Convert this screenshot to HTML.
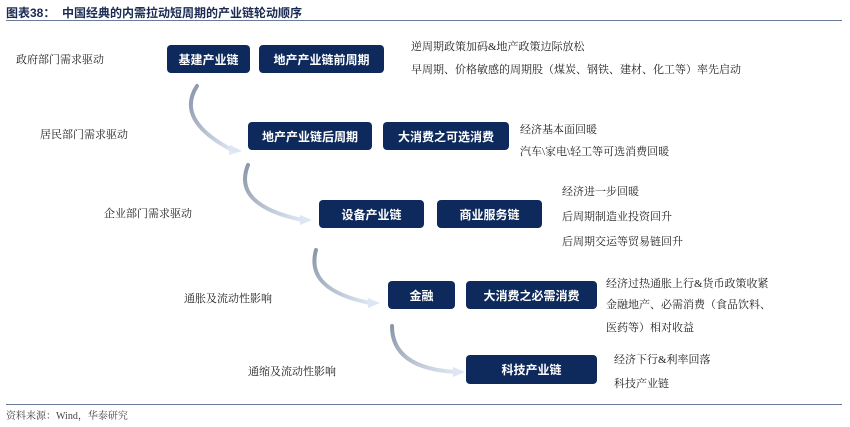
<!DOCTYPE html><html><head><meta charset="utf-8"><style>
body{margin:0;width:850px;height:427px;background:#fff;position:relative;font-family:"Liberation Serif","Noto Serif CJK SC",serif;overflow:hidden}
.t{position:absolute;font-size:11px;color:#222;white-space:nowrap}
.b{position:absolute;background:#0e2a5c;color:#fff;border-radius:4px;font-weight:bold;font-size:12px;display:flex;align-items:center;justify-content:center;font-family:"Liberation Sans","Noto Sans CJK SC",sans-serif}
</style></head><body>
<div class="t" style="left:6px;top:4px;font-weight:bold;font-size:12px;color:#1a2a50;font-family:'Liberation Sans','Noto Sans CJK SC',sans-serif">图表38：&nbsp;&nbsp;中国经典的内需拉动短周期的产业链轮动顺序</div>
<div style="position:absolute;left:6px;top:20px;width:836px;height:1px;background:#6b7a99"></div>
<div style="position:absolute;left:6px;top:404px;width:836px;height:1px;background:#6b7a99"></div>
<div class="t" style="left:6px;top:407px;font-size:10px;color:#444">资料来源：Wind，华泰研究</div>
<svg width="850" height="427" style="position:absolute;left:0;top:0">
<defs><linearGradient id="g" x1="0" y1="0" x2="1" y2="1"><stop offset="0" stop-color="#8a96aa"/><stop offset="1" stop-color="#dde6f2"/></linearGradient></defs>
<g fill="none" stroke="url(#g)" stroke-width="4" stroke-linecap="round">
<path d="M197 86 Q175 120 232 150"/><path d="M248 165 Q232 205 302 220"/><path d="M316 250 Q305 290 370 303"/><path d="M392 326 Q392 368 455 372"/>
</g>
<g fill="#dde6f2"><path d="M230 145 L242 151 L229 155Z"/><path d="M300 215 L312 220 L300 225Z"/><path d="M368 298 L380 303 L368 308Z"/><path d="M453 367 L465 372 L453 377Z"/></g>
</svg>
<div class="b" style="left:167px;top:45px;width:83px;height:28px">基建产业链</div>
<div class="b" style="left:259px;top:45px;width:125px;height:28px">地产产业链前周期</div>
<div class="b" style="left:248px;top:122px;width:124px;height:28px">地产产业链后周期</div>
<div class="b" style="left:383px;top:122px;width:126px;height:28px">大消费之可选消费</div>
<div class="b" style="left:319px;top:200px;width:105px;height:28px">设备产业链</div>
<div class="b" style="left:437px;top:200px;width:105px;height:28px">商业服务链</div>
<div class="b" style="left:388px;top:281px;width:67px;height:28px">金融</div>
<div class="b" style="left:466px;top:281px;width:131px;height:28px">大消费之必需消费</div>
<div class="b" style="left:466px;top:355px;width:131px;height:29px">科技产业链</div>
<div class="t" style="left:16px;top:51px">政府部门需求驱动</div>
<div class="t" style="left:40px;top:126px">居民部门需求驱动</div>
<div class="t" style="left:104px;top:205px">企业部门需求驱动</div>
<div class="t" style="left:184px;top:290px">通胀及流动性影响</div>
<div class="t" style="left:248px;top:363px">通缩及流动性影响</div>
<div class="t" style="left:411px;top:38px">逆周期政策加码&amp;地产政策边际放松</div>
<div class="t" style="left:411px;top:61px">早周期、价格敏感的周期股（煤炭、钢铁、建材、化工等）率先启动</div>
<div class="t" style="left:520px;top:121px">经济基本面回暖</div>
<div class="t" style="left:520px;top:143px">汽车\家电\轻工等可选消费回暖</div>
<div class="t" style="left:562px;top:183px">经济进一步回暖</div>
<div class="t" style="left:562px;top:208px">后周期制造业投资回升</div>
<div class="t" style="left:562px;top:233px">后周期交运等贸易链回升</div>
<div class="t" style="left:606px;top:275px">经济过热通胀上行&amp;货币政策收紧</div>
<div class="t" style="left:606px;top:296px">金融地产、必需消费（食品饮料、</div>
<div class="t" style="left:606px;top:319px">医药等）相对收益</div>
<div class="t" style="left:614px;top:351px">经济下行&amp;利率回落</div>
<div class="t" style="left:614px;top:375px">科技产业链</div>
</body></html>
